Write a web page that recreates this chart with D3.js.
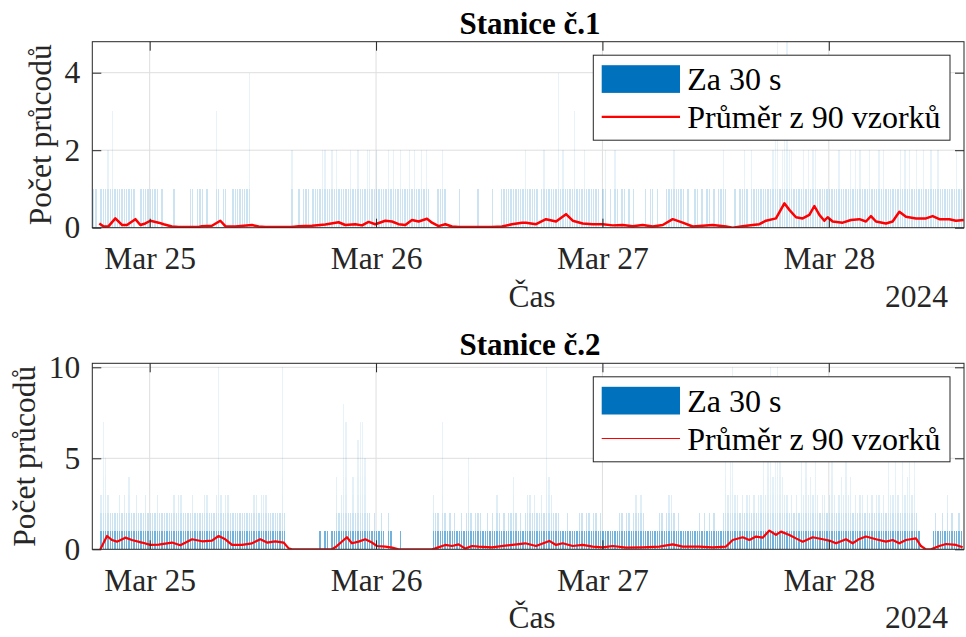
<!DOCTYPE html>
<html>
<head>
<meta charset="utf-8">
<script src="https://cdn.jsdelivr.net/npm/d3@7"></script>
<style>
  body { margin: 0; background: #fff; }
  svg { display: block; }
</style>
</head>
<body>
<svg id="fig" width="966" height="637"></svg>
<script>
// ---- data -------------------------------------------------------------
// Day ticks on the time axis
const dayTicks = [new Date(2024, 2, 25), new Date(2024, 2, 26), new Date(2024, 2, 27), new Date(2024, 2, 28)];
const tickLabels = ["Mar 25", "Mar 26", "Mar 27", "Mar 28"];
const yearLabel = "2024";
const timeStart = new Date(2024, 2, 24, 17, 55);
const timeEnd = new Date(2024, 2, 28, 14, 20);

// Peak passage count per 15-minute bin (digits, "a" = 10), first bin starts Mar 24 18:00
const binStart = new Date(2024, 2, 24, 18, 0);
const binMinutes = 15;
const counts1 = [
  "1101112131", "1111111100", "1111111101", "0000100000", "0110111010",
  "0031011001", "1111114000", "0000000000", "0000200101", "1101111221",
  "1212111112", "1121112211", "2111121211", "2111212112", "1210001121",
  "0000010000", "0001000001", "0001111111", "1112111110", "1211111412",
  "1111311121", "1111101201", "0210110101", "0000101101", "0001112111",
  "1010011010", "1101011210", "0010112102", "1111111123", "5123522111",
  "1212122111", "1111112111", "1212121112", "1112121111", "1121212112",
  "1121121121", "111111211"
];
const counts2 = [
  "0003753222", "2323242232", "2232222322", "2222323322", "2232222332",
  "223a323322", "2222222233", "2333222222", "a200000000", "0000001011",
  "0114238722", "4267752212", "1121021000", "1000000000", "0000322172",
  "1212112125", "2122211212", "1321212242", "1212332322", "32a4322211",
  "1211112212", "2122121111", "1112212212", "3232111111", "2212332121",
  "1111111212", "1212111253", "5a33232332", "3233535a45", "a543323232",
  "5353435323", "3235323435", "3423233232", "3233232533", "5325345352",
  "1000001211", "213121121"
];

// Moving average over 90 samples: hours relative to Mar 25 00:00, and value
const meanHours1 = [-5.34, -4.88, -4.35, -3.64, -2.94, -2.41, -1.52, -0.99, -0.46, 0.07, 0.95, 1.48, 2.36, 3.07, 4.13, 5.19, 5.54, 6.60, 7.49, 8.02, 9.08, 10.85, 11.55, 12.26, 13.67, 15.08, 15.79, 17.21, 18.62, 20.03, 20.74, 21.80, 22.51, 23.21, 23.92, 24.98, 25.69, 26.39, 27.10, 27.81, 28.51, 29.40, 29.93, 30.63, 31.34, 32.05, 32.75, 34.52, 36.29, 37.35, 38.41, 39.47, 39.90, 40.96, 42.02, 43.08, 44.14, 44.85, 45.91, 46.97, 48.03, 49.09, 50.15, 51.21, 52.27, 53.33, 54.39, 55.45, 56.51, 57.57, 58.63, 59.69, 61.10, 61.81, 62.87, 63.93, 64.64, 65.34, 66.40, 67.29, 67.82, 68.52, 69.23, 69.94, 70.47, 71.00, 71.53, 71.88, 72.41, 73.47, 74.35, 75.24, 75.94, 76.47, 77.00, 78.06, 78.77, 79.48, 80.18, 81.24, 82.30, 83.01, 83.72, 84.78, 85.48, 86.30];
const meanVals1 = [0.11, 0.03, 0.04, 0.24, 0.07, 0.07, 0.22, 0.07, 0.11, 0.18, 0.13, 0.09, 0.03, 0.02, 0.02, 0.02, 0.04, 0.05, 0.18, 0.04, 0.03, 0.07, 0.03, 0.02, 0.02, 0.02, 0.04, 0.05, 0.08, 0.14, 0.07, 0.09, 0.06, 0.15, 0.09, 0.18, 0.16, 0.09, 0.07, 0.20, 0.16, 0.23, 0.13, 0.04, 0.09, 0.03, 0.02, 0.02, 0.02, 0.03, 0.09, 0.13, 0.13, 0.09, 0.22, 0.16, 0.35, 0.18, 0.11, 0.09, 0.09, 0.06, 0.07, 0.04, 0.07, 0.03, 0.07, 0.22, 0.13, 0.03, 0.05, 0.07, 0.03, 0.00, 0.04, 0.07, 0.09, 0.18, 0.24, 0.63, 0.46, 0.27, 0.24, 0.33, 0.56, 0.33, 0.18, 0.27, 0.16, 0.13, 0.20, 0.22, 0.16, 0.30, 0.16, 0.11, 0.16, 0.41, 0.28, 0.24, 0.24, 0.30, 0.22, 0.22, 0.18, 0.20];

const meanHours2 = [-5.23, -4.52, -3.99, -3.47, -2.58, -1.88, -0.82, 0.07, 0.95, 2.36, 3.25, 4.49, 5.55, 6.60, 7.31, 8.02, 8.73, 9.79, 10.85, 11.73, 12.44, 13.32, 14.20, 14.73, 15.08, 19.32, 19.68, 20.91, 21.44, 22.15, 22.86, 23.57, 24.10, 24.98, 25.69, 26.39, 29.93, 30.28, 31.34, 32.05, 32.75, 33.46, 34.17, 34.87, 36.29, 37.70, 39.82, 40.96, 42.37, 43.08, 43.79, 44.85, 45.91, 46.97, 48.03, 49.09, 50.50, 52.27, 54.03, 55.45, 56.51, 58.27, 59.69, 61.10, 61.81, 62.87, 63.58, 64.28, 64.99, 65.70, 66.40, 66.93, 67.82, 68.52, 69.23, 70.29, 71.35, 72.06, 72.76, 73.82, 74.53, 75.24, 75.94, 77.00, 78.06, 78.77, 79.48, 80.18, 81.24, 81.77, 82.30, 82.83, 83.72, 84.43, 85.49, 86.19];
const meanVals2 = [0.00, 0.73, 0.51, 0.42, 0.64, 0.51, 0.37, 0.24, 0.26, 0.37, 0.22, 0.55, 0.44, 0.48, 0.73, 0.55, 0.24, 0.24, 0.33, 0.55, 0.37, 0.44, 0.37, 0.05, 0.00, 0.00, 0.11, 0.66, 0.33, 0.42, 0.55, 0.37, 0.18, 0.15, 0.09, 0.00, 0.00, 0.05, 0.24, 0.18, 0.27, 0.04, 0.18, 0.15, 0.11, 0.20, 0.33, 0.18, 0.46, 0.24, 0.33, 0.18, 0.24, 0.15, 0.11, 0.18, 0.09, 0.11, 0.15, 0.27, 0.15, 0.15, 0.11, 0.15, 0.51, 0.66, 0.51, 0.70, 0.64, 1.03, 0.79, 0.97, 0.79, 0.60, 0.42, 0.66, 0.55, 0.48, 0.33, 0.55, 0.33, 0.57, 0.70, 0.55, 0.42, 0.51, 0.33, 0.51, 0.60, 0.18, 0.00, 0.00, 0.18, 0.29, 0.24, 0.11];

const yTicks1 = [0, 2, 4];
const yTicks2 = [0, 5, 10];
const legendLabels = ["Za 30 s", "Průměr z 90 vzorků"];

// ---- drawing ----------------------------------------------------------
const FONT = '"Liberation Serif", "Times New Roman", Tinos, "Nimbus Roman", "DejaVu Serif", serif';
const barColor = "#0072BD";
const axisColor = "#262626";
const gridColor = "#dedede";
const svg = d3.select("#fig").style("font-family", FONT);
const x = d3.scaleTime().domain([timeStart, timeEnd]).range([92.3, 964]);
const dayZero = new Date(2024, 2, 25).getTime();
const hourToDate = h => new Date(dayZero + h * 3600e3);
const binToDate = i => new Date(binStart.getTime() + i * binMinutes * 60e3);

const panels = [
  { title: "Stanice č.1", counts: counts1, hours: meanHours1, vals: meanVals1, yMax: 4.8, yTicks: yTicks1,
    top: 41.7, bottom: 227.7, levelOpacity: [0.2, 0.09, 0.09, 0.09, 0.09], lineWidth: 2.5, legendLine: 2.2, ylabelX: 51 },
  { title: "Stanice č.2", counts: counts2, hours: meanHours2, vals: meanVals2, yMax: 10.22, yTicks: yTicks2,
    top: 363.3, bottom: 549.3, levelOpacity: [0.55, 0.2, 0.12, 0.1, 0.09], lineWidth: 2.2, legendLine: 1.2, ylabelX: 35 }
];

panels.forEach((p, pi) => {
  const y = d3.scaleLinear().domain([0, p.yMax]).range([p.bottom, p.top]);
  const [x0, x1] = x.range();
  const g = svg.append("g");
  const clipId = "clip" + pi;
  g.append("clipPath").attr("id", clipId)
    .append("rect").attr("x", x0).attr("y", p.top).attr("width", x1 - x0).attr("height", p.bottom - p.top);

  // grid
  g.append("g").selectAll("line").data(dayTicks).join("line")
    .attr("x1", d => x(d)).attr("x2", d => x(d)).attr("y1", p.top).attr("y2", p.bottom)
    .attr("stroke", gridColor).attr("stroke-width", 1);
  g.append("g").selectAll("line").data(p.yTicks.filter(v => v > 0)).join("line")
    .attr("x1", x0).attr("x2", x1).attr("y1", d => y(d)).attr("y2", d => y(d))
    .attr("stroke", gridColor).attr("stroke-width", 1);

  // bars: one rect per unit level of each bin, taller levels fainter
  const counts = p.counts.join("").split("").map(c => parseInt(c, 36));
  const segs = [];
  counts.forEach((v, i) => { for (let k = 0; k < v; k++) segs.push({ i, k }); });
  const plot = g.append("g").attr("clip-path", `url(#${clipId})`);
  const bx = i => Math.round(x(binToDate(i)));
  plot.append("g").selectAll("rect").data(segs).join("rect")
    .attr("x", d => bx(d.i))
    .attr("width", d => Math.max(1, bx(d.i + 1) - bx(d.i) - 1))
    .attr("y", d => Math.round(y(d.k + 1)))
    .attr("height", d => Math.round(y(d.k)) - Math.round(y(d.k + 1)))
    .attr("fill", barColor)
    .attr("fill-opacity", d => p.levelOpacity[Math.min(d.k, p.levelOpacity.length - 1)]);

  // moving average
  const pts = p.hours.map((h, i) => [hourToDate(h), p.vals[i]]);
  plot.append("path").datum(pts)
    .attr("d", d3.line().x(d => x(d[0])).y(d => y(d[1])))
    .attr("fill", "none").attr("stroke", "#ff0000").attr("stroke-width", p.lineWidth)
    .attr("stroke-linejoin", "round");

  // axes (ticks pointing inward on all four sides)
  const styleAxis = sel => {
    sel.attr("font-family", FONT);
    sel.select(".domain").remove();
    sel.selectAll(".tick line").attr("stroke", axisColor);
    sel.selectAll(".tick text").attr("fill", axisColor)
      .attr("font-family", FONT).attr("font-size", 31.5);
  };
  g.append("g").attr("transform", `translate(0,${p.bottom})`)
    .call(d3.axisBottom(x).tickValues(dayTicks).tickFormat((d, i) => tickLabels[i]).tickSize(-9).tickPadding(19))
    .call(styleAxis);
  g.append("g").attr("transform", `translate(0,${p.top})`)
    .call(d3.axisTop(x).tickValues(dayTicks).tickFormat("").tickSize(-9))
    .call(styleAxis);
  g.append("g").attr("transform", `translate(${x0},0)`)
    .call(d3.axisLeft(y).tickValues(p.yTicks).tickFormat(d3.format("d")).tickSize(-9).tickPadding(12))
    .call(styleAxis);
  g.append("g").attr("transform", `translate(${x1},0)`)
    .call(d3.axisRight(y).tickValues(p.yTicks).tickFormat("").tickSize(-9))
    .call(styleAxis);

  g.append("rect").attr("x", x0).attr("y", p.top).attr("width", x1 - x0).attr("height", p.bottom - p.top)
    .attr("fill", "none").attr("stroke", axisColor).attr("stroke-width", 1);

  // labels
  g.append("text").attr("x", 530).attr("y", p.top - 8).attr("text-anchor", "middle")
    .attr("font-family", FONT).attr("font-weight", "bold").attr("font-size", 31).attr("fill", "#000").text(p.title);
  g.append("text").attr("x", 532).attr("y", p.bottom + 79).attr("text-anchor", "middle")
    .attr("font-family", FONT).attr("font-size", 31.5).attr("fill", axisColor).text("Čas");
  g.append("text").attr("x", 948).attr("y", p.bottom + 79).attr("text-anchor", "end")
    .attr("font-family", FONT).attr("font-size", 31.5).attr("fill", axisColor).text(yearLabel);
  g.append("text").attr("transform", `translate(${p.ylabelX},${(p.top + p.bottom) / 2}) rotate(-90)`)
    .attr("text-anchor", "middle").attr("font-family", FONT).attr("font-size", 31.5).attr("fill", axisColor)
    .text("Počet průcodů");

  // legend
  const lg = g.append("g").attr("transform", `translate(593.3,${p.top + 13.5})`);
  lg.append("rect").attr("width", 356.7).attr("height", 85).attr("fill", "#fff")
    .attr("stroke", axisColor).attr("stroke-width", 1);
  lg.append("rect").attr("x", 8.4).attr("y", 10).attr("width", 78.3).attr("height", 27.7).attr("fill", barColor);
  lg.append("line").attr("x1", 8.4).attr("x2", 86.7).attr("y1", 61.7).attr("y2", 61.7)
    .attr("stroke", "#ff0000").attr("stroke-width", p.legendLine);
  lg.selectAll("text.lab").data(legendLabels).join("text").attr("class", "lab")
    .attr("x", 94).attr("y", (d, i) => i === 0 ? 35 : 73.3)
    .attr("font-family", FONT).attr("font-size", 32).attr("fill", "#000").text(d => d);
});
</script>
</body>
</html>
